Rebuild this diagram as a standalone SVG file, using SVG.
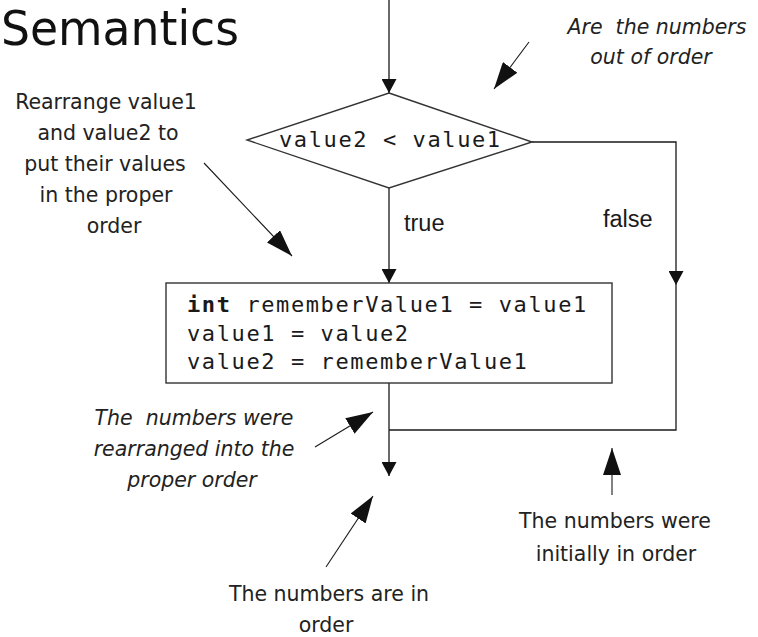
<svg xmlns="http://www.w3.org/2000/svg" width="758" height="637" viewBox="0 0 758 637">
<style>
.ln{fill:none;stroke:#1a1a1a;stroke-width:1.3}
.ann{fill:none;stroke:#1a1a1a;stroke-width:1.1}
.shape{fill:#fff;stroke:#333;stroke-width:1.4}
.code{font-family:"DejaVu Sans Mono","Liberation Mono",monospace;font-size:22px;letter-spacing:1.6px;fill:#1a1a1a}
.lbl{font-family:"Liberation Sans",Arial,sans-serif;font-size:23.5px;fill:#1a1a1a}
.note{font-family:"DejaVu Sans",sans-serif;font-size:20.5px;fill:#222;text-anchor:middle}
.it{font-style:italic}
</style>
<defs>
<marker id="flow" markerUnits="userSpaceOnUse" markerWidth="14" markerHeight="15" viewBox="0 0 14 15" refX="14" refY="7.5" orient="auto"><path d="M0,0 L14,7.5 L0,15 Z" fill="#111"/></marker>
<marker id="big" markerUnits="userSpaceOnUse" markerWidth="27" markerHeight="18" viewBox="0 0 27 18" refX="27" refY="9" orient="auto"><path d="M0,0 L27,9 L0,18 Z" fill="#111"/></marker>
</defs>

<text x="1" y="45" font-family="'DejaVu Sans Condensed','DejaVu Sans',sans-serif" font-size="48" textLength="238" lengthAdjust="spacingAndGlyphs" fill="#111">Semantics</text>

<g id="connectors">
<line class="ln" x1="389" y1="0" x2="389" y2="93" marker-end="url(#flow)"/>
<line class="ln" x1="389" y1="188" x2="389" y2="283" marker-end="url(#flow)"/>
<polyline class="ln" points="532,142 676,142 676,285" marker-end="url(#flow)"/>
<polyline class="ln" points="676,285 676,430 389,430"/>
<line class="ln" x1="389" y1="383" x2="389" y2="476" marker-end="url(#flow)"/>
<text class="lbl" x="404" y="231">true</text>
<text class="lbl" x="603" y="227">false</text>
</g>

<g id="decision">
<polygon class="shape" points="389,93 532,142 389,188 247,140"/>
<text class="code" x="279" y="147">value2 &lt; value1</text>
</g>

<g id="swap">
<rect class="shape" x="166" y="283" width="446" height="100"/>
<text class="code" x="187" y="312"><tspan font-weight="bold">int</tspan> rememberValue1 = value1</text>
<text class="code" x="187" y="341">value1 = value2</text>
<text class="code" x="187" y="369">value2 = rememberValue1</text>
</g>

<g id="note-rearrange">
<text class="note" x="106" y="109">Rearrange value1</text>
<text class="note" x="108" y="140">and value2 to</text>
<text class="note" x="105" y="171">put their values</text>
<text class="note" x="106" y="202">in the proper</text>
<text class="note" x="114" y="233">order</text>
<line class="ann" x1="204" y1="163" x2="292" y2="256" marker-end="url(#big)"/>
</g>

<g id="note-out-of-order">
<text class="note it" x="657" y="34" xml:space="preserve">Are  the numbers</text>
<text class="note it" x="651" y="64">out of order</text>
<line class="ann" x1="529" y1="42" x2="494" y2="89" marker-end="url(#big)"/>
</g>

<g id="note-rearranged">
<text class="note it" x="194" y="425" xml:space="preserve">The  numbers were</text>
<text class="note it" x="194" y="456">rearranged into the</text>
<text class="note it" x="192" y="487">proper order</text>
<line class="ann" x1="315" y1="447" x2="373" y2="412" marker-end="url(#big)"/>
</g>

<g id="note-initially">
<text class="note" x="615" y="528">The numbers were</text>
<text class="note" x="616" y="561">initially in order</text>
<line class="ann" x1="612" y1="495" x2="612" y2="448" marker-end="url(#big)"/>
</g>

<g id="note-in-order">
<text class="note" x="329" y="601">The numbers are in</text>
<text class="note" x="326" y="632">order</text>
<line class="ann" x1="326" y1="567" x2="373" y2="496" marker-end="url(#big)"/>
</g>
</svg>
